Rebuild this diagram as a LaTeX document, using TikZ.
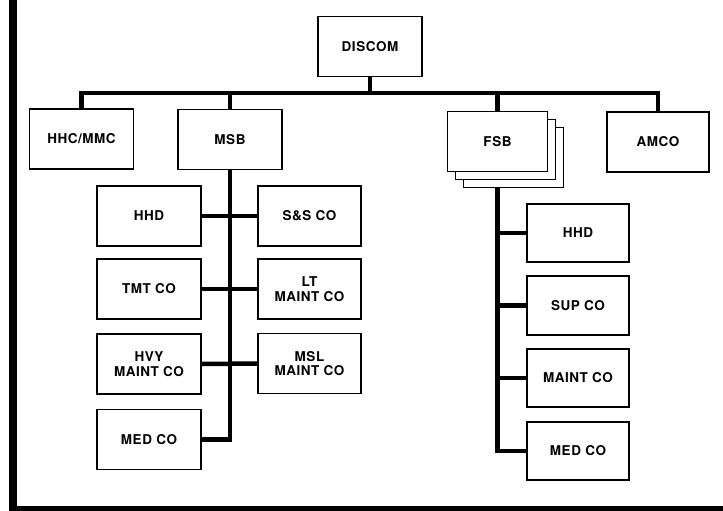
\documentclass[tikz,border=0pt]{standalone}
\usepackage{fontspec}
\setmainfont[LetterSpace=4]{TeX Gyre Heros}
\begin{document}
\begin{tikzpicture}[x=1pt,y=-1pt,
  box/.style={draw,line width=1.6pt,fill=white,minimum width=104pt,minimum height=60pt,
    inner sep=0pt,align=center,font=\fontsize{13.5}{14.5}\selectfont\bfseries},
  conn/.style={line width=4.5pt},
]
\useasboundingbox (0,0) rectangle (723,511);
% frame
\fill[black] (9,0) rectangle (17,511);
\fill[black] (9,506) rectangle (723,511);
% top level
\node[box] (discom) at (370,46.5) {DISCOM};
\node[box] (hhc) at (81.5,139) {HHC/MMC};
\node[box] (msb) at (230,139.5) {MSB};
\node[box,minimum width=100pt] (fsbc) at (513.5,157.5) {};
\node[box,minimum width=100pt] (fsbb) at (505.5,149.5) {};
\node[box,minimum width=100pt] (fsb) at (497.5,141.5) {FSB};
\node[box,minimum width=102pt] (amco) at (658,142) {AMCO};
\coordinate (bus) at (370,93);
% MSB children
\node[box] (hhd) at (149,216) {HHD};
\node[box,minimum width=103pt] (sands) at (309.5,216) {S\&S CO};
\node[box] (tmt) at (149,289) {TMT CO};
\node[box,minimum width=103pt] (lt) at (309.5,289) {LT\\MAINT CO};
\node[box] (hvy) at (149,364) {HVY\\MAINT CO};
\node[box,minimum width=103pt] (msl) at (309.5,363.5) {MSL\\MAINT CO};
\node[box] (med) at (149,439.5) {MED CO};
% FSB children
\node[box,minimum width=102pt,minimum height=58pt] (fhhd) at (578,233) {HHD};
\node[box,minimum width=102pt,minimum height=59pt] (fsup) at (578,305.5) {SUP CO};
\node[box,minimum width=102pt,minimum height=58pt] (fmaint) at (578,378) {MAINT CO};
\node[box,minimum width=102pt,minimum height=58pt] (fmed) at (578,451) {MED CO};
% connectors
\draw[conn] (discom.south) -- (bus);
\draw[conn] (hhc.north) |- (bus) -| (amco.north);
\draw[conn] (msb.north) -- (msb.north |- bus);
\draw[conn] (fsb.north) -- (fsb.north |- bus);
\draw[conn] (msb.south) |- (med.east);
\draw[conn] (hhd.east) -- (sands.west);
\draw[conn] (tmt.east) -- (lt.west);
\draw[conn] (hvy.east) -- (msl.west);
\coordinate (fsbx) at (fsb.center |- fsbc.south);
\draw[conn] (fsbx) |- (fmed.west);
\draw[conn] (fsbx |- fhhd.west) -- (fhhd.west);
\draw[conn] (fsbx |- fsup.west) -- (fsup.west);
\draw[conn] (fsbx |- fmaint.west) -- (fmaint.west);
\end{tikzpicture}
\end{document}
